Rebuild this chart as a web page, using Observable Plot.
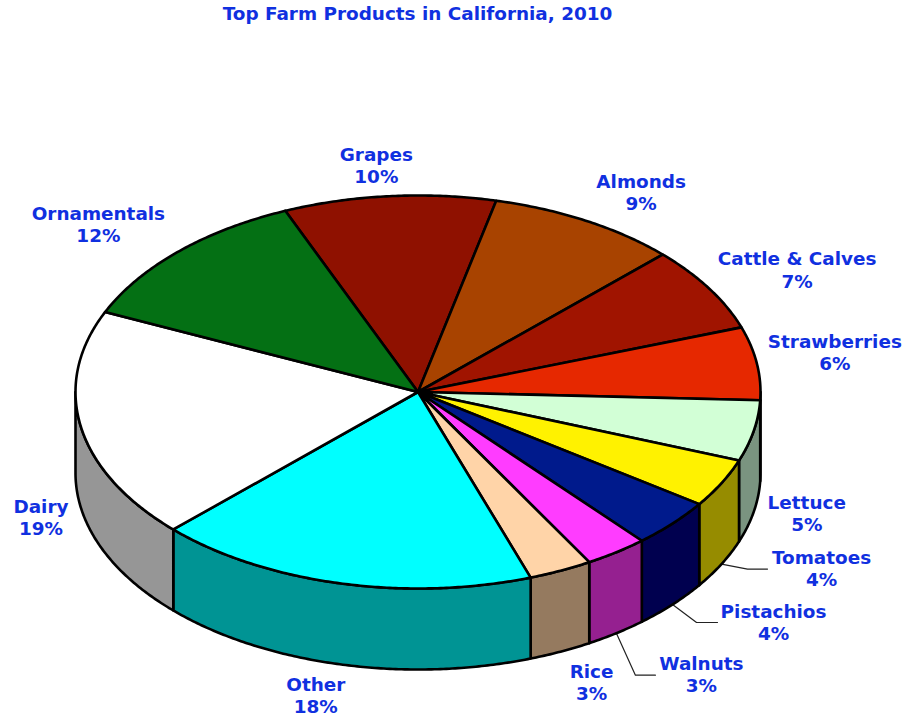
<!DOCTYPE html>
<html>
<head>
<meta charset="utf-8">
<title>Top Farm Products in California, 2010</title>
<script src="https://cdn.jsdelivr.net/npm/d3@7"></script>
<script src="https://cdn.jsdelivr.net/npm/@observablehq/plot@0.6"></script>
<style>
  html, body { margin: 0; background: #fff; }
  #title {
    width: 835px; height: 28px; text-align: center;
    font: bold 18.4px/28px "DejaVu Sans", sans-serif; color: #1030e0;
    white-space: nowrap;
  }
  svg { display: block; }
</style>
</head>
<body>
<div id="title">Top Farm Products in California, 2010</div>
<div id="chart"></div>
<script>
// Slices, clockwise from the Grapes wedge
const categories = ["Grapes", "Almonds", "Cattle & Calves", "Strawberries", "Lettuce", "Tomatoes",
  "Pistachios", "Walnuts", "Rice", "Other", "Dairy", "Ornamentals"];
const shares = [10, 9, 7, 6, 5, 4, 4, 3, 3, 18, 19, 12];
const topColors = ["#8f1100", "#a84300", "#a01400", "#e62800", "#d2ffd6", "#fff200",
  "#001a8c", "#ff3cff", "#ffd4a8", "#00ffff", "#ffffff", "#047014"];
const wallColors = ["#480800", "#542100", "#500a00", "#731400", "#7a9480", "#968c00",
  "#00004f", "#952090", "#957a5f", "#009494", "#969696", "#023808"];

// Tilted-disc geometry: unit disc on screen as an ellipse, wall drop in y units
const startAngle = -22.8;
const wallDrop = 81 / 196.5;
const radiusX = 342.5, radiusY = 196.5;
const inkBlue = "#1030e0";

// Label placement relative to each slice's rim point, in pixels
const labelShift = {
  "Grapes": [-13, -30], "Almonds": [55, -28], "Cattle & Calves": [88, -18], "Strawberries": [78, -10],
  "Lettuce": [53, 2], "Tomatoes": [100, 5], "Pistachios": [101, 18], "Walnuts": [85, 42],
  "Rice": [31, 31], "Other": [-24, 32], "Dairy": [-40, 10], "Ornamentals": [-80, -27]
};
// Leader lines: distance of the elbow and of the end from the label's centre, in pixels
const leaderInset = {"Tomatoes": [74, 54], "Pistachios": [77, 56], "Walnuts": [66, 46]};

const rad = d => d * Math.PI / 180;
const rim = (angle, drop = 0) => ({x: Math.sin(rad(angle)), y: Math.cos(rad(angle)) - drop});
const arc = (from, to, drop = 0) => {
  const steps = Math.max(2, Math.ceil(Math.abs(to - from) / 0.5));
  return d3.range(steps + 1).map(i => rim(from + (to - from) * i / steps, drop));
};

const ends = d3.cumsum(shares).map(s => startAngle + s * 3.6);
const slices = categories.map((name, i) => ({
  name, share: shares[i], top: topColors[i], wall: wallColors[i],
  from: ends[i] - shares[i] * 3.6, to: ends[i], mid: ends[i] - shares[i] * 1.8
}));

// Disc top: centre, outer arc, back to centre
const topRings = slices.flatMap(s =>
  [{x: 0, y: 0}, ...arc(s.from, s.to), {x: 0, y: 0}].map(p => ({...p, name: s.name, fill: s.top})));

// Only the front half of the cylinder wall is visible
const wallRings = slices.flatMap(s => {
  const a = Math.max(s.from, 90), b = Math.min(s.to, 270);
  if (a >= b) return [];
  const upper = arc(a, b), lower = arc(b, a, wallDrop);
  return [...upper, ...lower, upper[0]].map(p => ({...p, name: s.name, fill: s.wall}));
});

const labels = slices.map(s => {
  const front = Math.cos(rad(s.mid)) < 0;
  const p = rim(s.mid, front ? wallDrop : 0);
  const [dx, dy] = labelShift[s.name];
  return {x: p.x + dx / radiusX, y: p.y - dy / radiusY, rimX: p.x, rimY: p.y, name: s.name,
    text: `${s.name}\n${s.share}%`};
});

const leaders = labels.filter(l => leaderInset[l.name]).flatMap(l => {
  const [elbow, end] = leaderInset[l.name];
  return [
    {x: l.rimX, y: l.rimY, name: l.name},
    {x: l.x - elbow / radiusX, y: l.y, name: l.name},
    {x: l.x - end / radiusX, y: l.y, name: l.name}
  ];
});

const outline = {stroke: "black", strokeWidth: 2.6, strokeLinejoin: "round", strokeLinecap: "round"};

const chart = Plot.plot({
  width: 906,
  height: 693,
  margin: 0,
  x: {axis: null, domain: [-1, 1], range: [75, 760]},
  y: {axis: null, domain: [-1, 1], range: [560, 167]},
  color: {type: "identity"},
  style: {background: "white", fontFamily: "'DejaVu Sans', sans-serif"},
  marks: [
    Plot.line(leaders, {x: "x", y: "y", z: "name", stroke: "#222", strokeWidth: 1.2}),
    Plot.line(wallRings, {x: "x", y: "y", z: "name", fill: "fill", ...outline}),
    Plot.line(topRings, {x: "x", y: "y", z: "name", fill: "fill", ...outline}),
    Plot.text(labels, {x: "x", y: "y", dy: -1, text: "text", fill: inkBlue, fontSize: 18.4,
      fontWeight: "bold", lineHeight: 1.2, textAnchor: "middle"})
  ]
});
document.getElementById("chart").append(chart);
</script>
</body>
</html>
